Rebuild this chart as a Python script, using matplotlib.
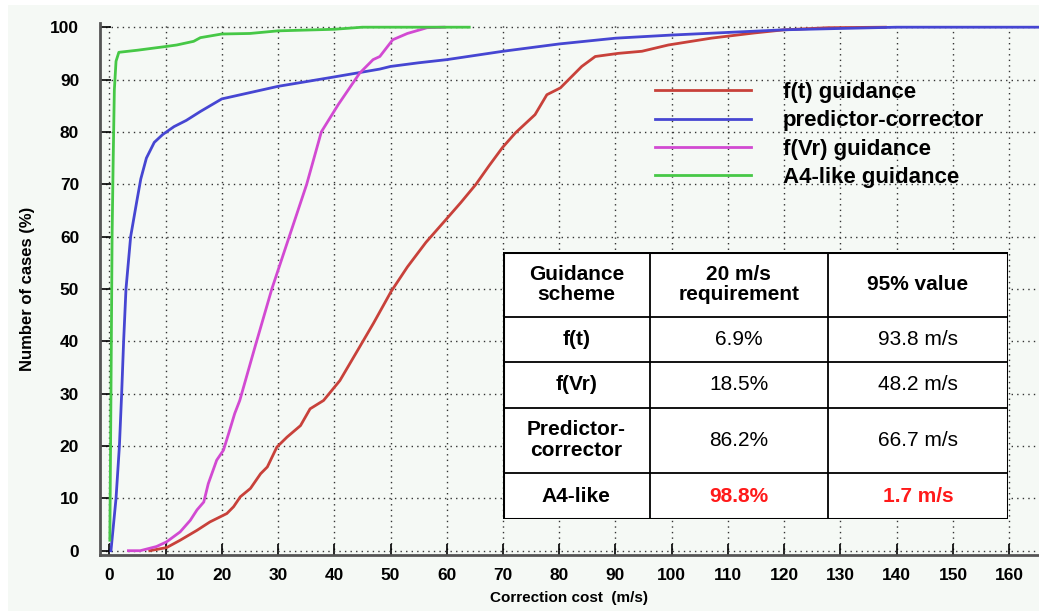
import matplotlib
matplotlib.use("Agg")
import matplotlib.pyplot as plt
from matplotlib.patches import Rectangle

# cumulative distribution of correction cost per guidance scheme
ft_cost = [7.2, 10.2, 12.6, 15.6, 17.9, 20.9, 22.1, 23.3, 25.1, 26.9, 28.1, 29.8, 31.6, 34.0,
           35.7, 38.1, 41.0, 44.5, 47.0, 50.1, 53.0, 56.3, 59.9, 62.5, 65.2, 67.5, 69.9, 72.2,
           75.7, 77.8, 80.2, 84.0, 86.4, 90.5, 94.7, 99.4, 107.0, 114.7, 120.0, 127.7, 138.0]
ft_pct = [0.0, 0.6, 2.0, 3.9, 5.5, 7.1, 8.4, 10.3, 11.9, 14.7, 16.0, 19.8, 21.7, 23.9,
          27.1, 28.7, 32.5, 38.9, 43.5, 49.5, 54.2, 58.9, 63.3, 66.5, 70.0, 73.5, 77.0, 79.8,
          83.3, 87.1, 88.4, 92.5, 94.4, 95.0, 95.4, 96.6, 97.9, 98.9, 99.5, 99.9, 100.0]

pc_cost = [0.3, 1.2, 1.8, 2.2, 2.55, 2.97, 3.8, 4.9, 5.6, 6.6, 8.0, 9.5, 11.5, 13.7, 16.2,
           20.0, 25.0, 30.0, 35.0, 40.0, 48.1, 50.0, 55.0, 60.0, 65.0, 70.0, 80.0, 90.0, 100.0,
           110.0, 120.0, 127.7, 140.0, 166.0]
pc_pct = [0.0, 10.0, 20.0, 30.0, 40.0, 50.0, 60.0, 66.8, 71.0, 75.0, 78.0, 79.5, 81.0, 82.2, 83.9,
          86.3, 87.5, 88.7, 89.6, 90.5, 92.0, 92.5, 93.2, 93.8, 94.6, 95.4, 96.8, 97.9, 98.5,
          99.0, 99.5, 99.7, 100.0, 100.0]

fvr_cost = [3.4, 5.5, 8.4, 10.2, 12.6, 14.4, 15.6, 16.8, 17.6, 19.1, 20.3, 21.4, 22.3, 23.2,
            25.9, 28.9, 32.0, 35.1, 37.7, 40.7, 44.5, 46.9, 48.1, 50.4, 53.0, 56.5, 59.5]
fvr_pct = [0.0, 0.0, 0.8, 1.7, 3.6, 5.8, 7.8, 9.3, 12.8, 17.3, 19.2, 23.0, 26.2, 28.7,
           38.9, 50.0, 60.0, 70.0, 80.0, 85.2, 91.2, 93.8, 94.4, 97.6, 98.8, 99.9, 100.0]

a4_cost = [0.1, 0.3, 0.5, 0.7, 0.9, 1.2, 1.7, 5.0, 10.0, 12.0, 15.0, 16.2, 20.0, 25.0, 30.0,
           40.0, 45.0, 64.0]
a4_pct = [2.0, 30.0, 60.0, 75.0, 88.0, 93.5, 95.2, 95.6, 96.3, 96.6, 97.3, 98.0, 98.7, 98.8, 99.3,
          99.6, 100.0, 100.0]

series_labels = ["f(t) guidance", "predictor-corrector", "f(Vr) guidance", "A4-like guidance"]
series_colors = ["#c8413a", "#4646d2", "#d24ad2", "#46c846"]

# summary table
table_header = ["Guidance\nscheme", "20 m/s\nrequirement", "95% value"]
table_schemes = ["f(t)", "f(Vr)", "Predictor-\ncorrector", "A4-like"]
table_req = ["6.9%", "18.5%", "86.2%", "98.8%"]
table_p95 = ["93.8 m/s", "48.2 m/s", "66.7 m/s", "1.7 m/s"]

plt.rcParams["font.family"] = ["Liberation Sans", "DejaVu Sans"]

W, H = 1039, 611
fig = plt.figure(figsize=(W / 100, H / 100), dpi=100, facecolor="white")
fig.patches.append(Rectangle((8 / W, 0), 1 - 8 / W, 1 - 5 / H, transform=fig.transFigure,
                             facecolor="#f5f9f5", edgecolor="none", zorder=-10))

ax = fig.add_axes([100 / W, 1 - 555 / H, 1 - 100 / W, (555 - 23) / H])
ax.set_facecolor("none")

curves = [(ft_cost, ft_pct), (pc_cost, pc_pct), (fvr_cost, fvr_pct), (a4_cost, a4_pct)]
for (xs, ys), lab, col in zip(curves, series_labels, series_colors):
    ax.plot(xs, ys, color=col, lw=2.0, label=lab, zorder=3)

ax.set_xlim(-1.65, 165.3)
ax.set_ylim(-0.82, 100.8)
ax.set_xticks(range(0, 161, 10))
ax.set_yticks(range(0, 101, 10))
ax.grid(True, color="#333333", lw=1.0, linestyle=(0, (1, 3)))
ax.set_axisbelow(True)

for s in ["top", "right"]:
    ax.spines[s].set_visible(False)
for s in ["left", "bottom"]:
    ax.spines[s].set_color("#555555")
    ax.spines[s].set_linewidth(2.0)

ax.tick_params(axis="both", direction="in", length=8, width=1.2, color="black",
               labelsize=12.5)
ax.tick_params(axis="y", pad=15)
ax.tick_params(axis="x", pad=9)
for t in ax.get_xticklabels() + ax.get_yticklabels():
    t.set_fontweight("bold")

ax.set_xlabel("Correction cost  (m/s)", fontsize=11, fontweight="bold", labelpad=6)
ax.set_ylabel("Number of cases (%)", fontsize=12, fontweight="bold", labelpad=11)

leg = ax.legend(loc="upper left", bbox_to_anchor=(644 / W, 1 - 71 / H),
                bbox_transform=fig.transFigure, frameon=False, fontsize=16,
                handlelength=4.3, handletextpad=1.45, labelspacing=0.33, borderpad=0)
for t in leg.get_texts():
    t.set_fontweight("bold")

# table drawn in its own axes on top of the plot
tx0, tx1, ty0, ty1 = 503, 1008, 252, 519
tab = fig.add_axes([tx0 / W, 1 - ty1 / H, (tx1 - tx0) / W, (ty1 - ty0) / H])
tab.set_xlim(0, 1)
tab.set_ylim(1, 0)
tab.axis("off")
tab.add_patch(Rectangle((0, 0), 1, 1, facecolor="white", edgecolor="black", lw=2.2, zorder=1))

col_edges = [0, (649.5 - tx0) / (tx1 - tx0), (828 - tx0) / (tx1 - tx0), 1]
row_edges = [0] + [(v - ty0) / (ty1 - ty0) for v in (317, 362, 407.5, 473)] + [1]
for c in col_edges[1:-1]:
    tab.plot([c, c], [0, 1], color="black", lw=1.3, zorder=2)
for r in row_edges[1:-1]:
    tab.plot([0, 1], [r, r], color="black", lw=1.3, zorder=2)

def cell_center(i, j):
    return ((col_edges[j] + col_edges[j + 1]) / 2, (row_edges[i] + row_edges[i + 1]) / 2)

for j, txt in enumerate(table_header):
    x, y = cell_center(0, j)
    tab.text(x, y, txt, ha="center", va="center", fontsize=15, fontweight="bold",
             linespacing=1.1, zorder=3)

for i in range(len(table_schemes)):
    last = i == len(table_schemes) - 1
    vals = [table_schemes[i], table_req[i], table_p95[i]]
    for j, txt in enumerate(vals):
        x, y = cell_center(i + 1, j)
        color = "#ff1a1a" if (last and j > 0) else "black"
        weight = "bold" if (j == 0 or last) else "normal"
        tab.text(x, y, txt, ha="center", va="center", fontsize=15, fontweight=weight,
                 color=color, linespacing=1.15, zorder=3)

fig.savefig("out.png", dpi=100, facecolor=fig.get_facecolor())
